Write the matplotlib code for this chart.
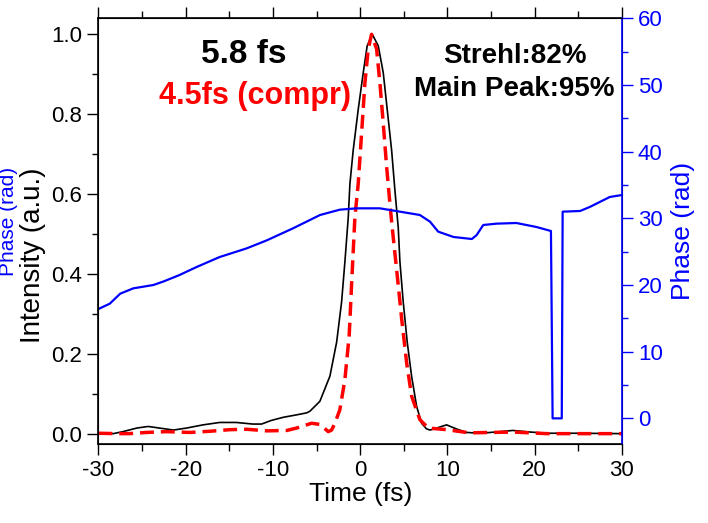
import numpy as np
import matplotlib.pyplot as plt
from matplotlib.ticker import MultipleLocator

plt.rcParams['font.family'] = ['Liberation Sans', 'DejaVu Sans']
plt.rcParams['axes.unicode_minus'] = False

# measured pulse (black)
t_meas = [-30, -28.3, -27.2, -25.6, -24.3, -23.0, -21.4, -19.9, -18.0, -16.1, -14.2,
          -12.3, -11.3, -10.2, -8.8, -7.3, -6.14, -5.77, -4.62, -3.47, -2.7,
          -2.13, -1.75, -1.37, -1.18, -0.80, -0.23, 0.35, 0.80, 1.38, 2.07, 2.64,
          3.10, 3.60, 3.98, 4.36, 4.55, 4.93, 5.39, 5.89, 6.47, 7.04, 7.6, 8.0,
          8.76, 9.9, 11.0, 12.2, 13.7, 15.5, 17.5, 19.5, 21.4, 25.0, 30]
i_meas = [0.001, 0.0, 0.005, 0.014, 0.018, 0.014, 0.009, 0.014, 0.022, 0.028, 0.028,
          0.024, 0.024, 0.033, 0.041, 0.047, 0.052, 0.056, 0.081, 0.144, 0.229,
          0.33, 0.431, 0.541, 0.625, 0.71, 0.811, 0.904, 0.971, 1.0, 0.971, 0.904,
          0.811, 0.71, 0.609, 0.516, 0.431, 0.33, 0.229, 0.144, 0.068, 0.026, 0.012, 0.009,
          0.014, 0.022, 0.012, 0.003, 0.001, 0.004, 0.008, 0.004, 0.001, 0.001, 0.0]

# compressed pulse (red dashed)
t_comp = [-30, -27.9, -26.5, -24.5, -22.2, -19.5, -17.2, -14.9, -13.0, -10.7, -8.4,
          -7.3, -5.57, -4.6, -3.66, -3.28, -2.9, -2.33, -1.75, -1.26, -0.99, -0.61,
          -0.23, 0.16, 0.54, 0.92, 1.3, 1.88, 2.26, 2.64, 3.03, 3.41, 3.67, 4.36,
          4.75, 5.32, 5.89, 6.84, 7.8, 9.9, 12.5, 15.0, 17.5, 21.4, 25.0, 30]
i_comp = [0.001, 0.0, 0.0, 0.003, 0.005, 0.003, 0.006, 0.01, 0.011, 0.007, 0.008,
          0.014, 0.026, 0.023, 0.005, 0.009, 0.026, 0.06, 0.136, 0.246, 0.372, 0.541,
          0.625, 0.752, 0.878, 0.963, 1.0, 0.963, 0.878, 0.777, 0.668, 0.575, 0.516, 0.372,
          0.288, 0.178, 0.094, 0.035, 0.014, 0.01, 0.002, 0.003, 0.004, 0.0, 0.0, 0.0]

# phase (blue)
t_ph = [-30, -28.7, -27.5, -26.0, -23.7, -22.6, -20.7, -18.75, -16.1, -13.0, -10.7,
        -7.7, -4.6, -2.33, -0.41, 2.26, 4.55, 6.84, 8.0, 8.94, 10.7, 12.8, 13.35,
        14.1, 15.6, 17.9, 20.2, 21.86, 22.05, 23.1, 23.2, 25.2, 26.3, 28.6, 30]
p_ph = [16.4, 17.2, 18.7, 19.5, 20.0, 20.5, 21.5, 22.7, 24.2, 25.5, 26.7,
        28.5, 30.5, 31.3, 31.5, 31.5, 31.0, 30.5, 29.5, 28.0, 27.2, 26.9, 27.5,
        29.0, 29.2, 29.3, 28.7, 28.1, 0.0, 0.0, 31.0, 31.1, 31.7, 33.2, 33.5]

fig = plt.figure(figsize=(7.08, 5.23), dpi=100)
ax = fig.add_axes([0.139, 0.151, 0.7395, 0.814])
ax2 = ax.twinx()

ax.plot(t_meas, i_meas, color='black', lw=1.2, zorder=3)
ax.plot(t_comp, i_comp, color='red', lw=2.5, dashes=(4, 2), zorder=4)
ax2.plot(t_ph, p_ph, color='blue', lw=1.6)

ax.set_xlim(-30, 30)
ax.set_ylim(-0.026, 1.04)
ax2.set_ylim(-3.85, 60)

ax.xaxis.set_major_locator(MultipleLocator(10))
ax.xaxis.set_minor_locator(MultipleLocator(5))
ax.yaxis.set_major_locator(MultipleLocator(0.2))
ax.yaxis.set_minor_locator(MultipleLocator(0.1))
ax2.yaxis.set_major_locator(MultipleLocator(10))
ax2.yaxis.set_minor_locator(MultipleLocator(5))
ax.yaxis.set_major_formatter(plt.FormatStrFormatter('%.1f'))

ax.tick_params(axis='both', which='major', direction='out', length=8, width=1, labelsize=16)
ax.tick_params(axis='both', which='minor', direction='out', length=4, width=1)
ax.tick_params(axis='x', which='both', top=True, labeltop=False)
# bottom ticks point out, top ticks point in
for tk in ax.xaxis.get_major_ticks() + ax.xaxis.get_minor_ticks():
    tk.tick1line.set_marker(3)
    tk.tick2line.set_marker(3)
ax.tick_params(axis='x', which='major', length=8)
ax.tick_params(axis='x', which='minor', length=5)
ax2.tick_params(axis='y', which='major', direction='out', length=8, width=1,
                colors='blue', labelsize=16)
ax2.tick_params(axis='y', which='minor', direction='out', length=4, width=1, colors='blue')
ax2.spines['right'].set_color('blue')
ax2.spines['right'].set_linewidth(1.2)
for s in ['left', 'top', 'bottom']:
    ax.spines[s].set_linewidth(1.2)

ax.set_xlabel('Time (fs)', fontsize=19, labelpad=1)
ax2.set_ylabel('Phase (rad)', fontsize=19, color='blue', labelpad=6)
fig.text(0.046, 0.68, 'Intensity (a.u.)', rotation=90, fontsize=20,
         ha='center', va='top')
fig.text(0.012, 0.68, 'Phase (rad)', rotation=90, fontsize=15, color='blue',
         ha='center', va='top')

ax.text(0.278, 0.916, '5.8 fs', transform=ax.transAxes, fontsize=24,
        fontweight='bold', ha='center', va='center')
ax.text(0.30, 0.818, '4.5fs (compr)', transform=ax.transAxes, fontsize=22,
        fontweight='bold', color='red', ha='center', va='center')
ax.text(0.795, 0.912, 'Strehl:82%', transform=ax.transAxes, fontsize=20,
        fontweight='bold', ha='center', va='center')
ax.text(0.795, 0.834, 'Main Peak:95%', transform=ax.transAxes, fontsize=20,
        fontweight='bold', ha='center', va='center')

fig.savefig('out.png', dpi=100)
